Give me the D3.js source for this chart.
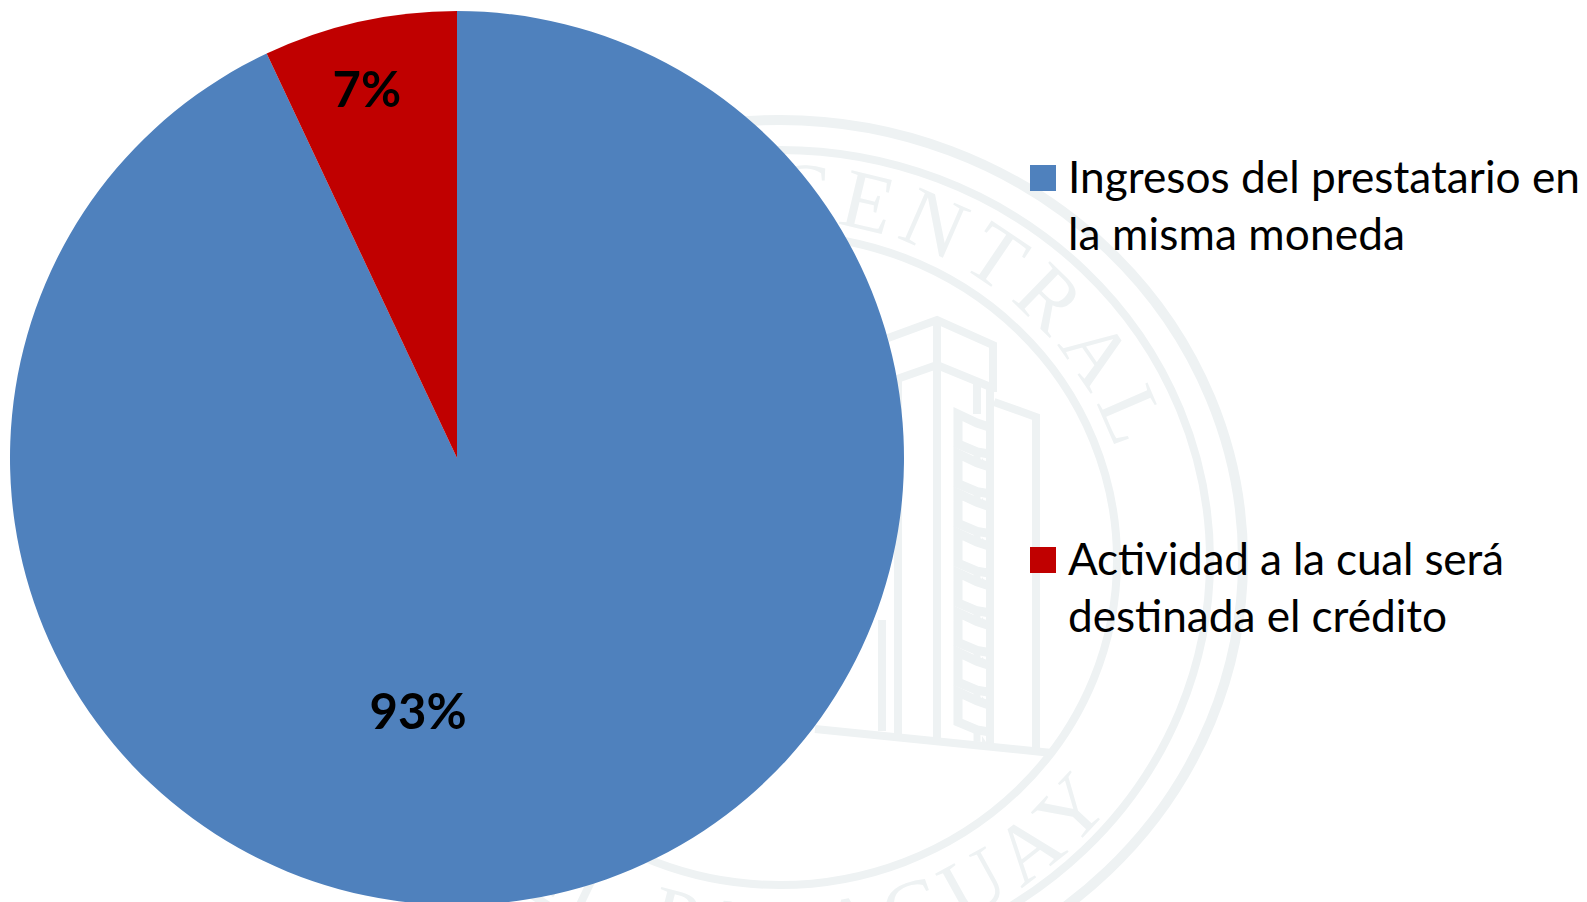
<!DOCTYPE html>
<head>
  <meta charset="utf-8">
  <script src="https://d3js.org/d3.v7.min.js"></script>
  <style>
    html, body { margin: 0; padding: 0; background: #fff; }
    svg { display: block; }
    text { font-family: Lato, "Open Sans", sans-serif; }
  </style>
</head>
<body>
  <div id="chart"></div>
  <script>
    var categories = ["Ingresos del prestatario en la misma moneda", "Actividad a la cual será destinada el crédito"];
    var legendLines = [["Ingresos del prestatario en", "la misma moneda"], ["Actividad a la cual será", "destinada el crédito"]];
    var legendWidths = [[512, 337], [436, 379]];
    var values = [93, 7];
    var valueLabels = ["93%", "7%"];
    var colors = ["#4f81bd", "#c00000"];

    var width = 1587, height = 902;
    var cx = 457, cy = 458, radius = 447;
    var seal = "#eef2f3";

    var svg = d3.select("#chart").append("svg")
      .attr("width", width)
      .attr("height", height);

    // watermark seal behind the chart
    var wm = svg.append("g").attr("class", "watermark");
    var sx = 780, sy = 560;

    [[463, 440, 10], [430, 410, 8], [337, 325, 8]].forEach(function(r) {
      wm.append("ellipse")
        .attr("cx", sx).attr("cy", sy)
        .attr("rx", r[0]).attr("ry", r[1])
        .attr("fill", "none").attr("stroke", seal).attr("stroke-width", r[2]);
    });

    var defs = svg.append("defs");
    defs.append("path").attr("id", "sealTop")
      .attr("d", "M" + (sx - 355) + "," + sy + " A355,340 0 0 1 " + (sx + 355) + "," + sy);
    defs.append("path").attr("id", "sealBottom")
      .attr("d", "M" + (sx - 420) + "," + sy + " A420,400 0 0 0 " + (sx + 420) + "," + sy);

    function sealText(id, str, offset) {
      wm.append("text")
        .attr("fill", seal)
        .style("font-family", "'Liberation Serif', serif")
        .style("font-size", "84px")
        .style("letter-spacing", "9px")
        .attr("text-anchor", "end")
        .append("textPath")
        .attr("href", "#" + id)
        .attr("startOffset", offset)
        .text(str);
    }
    sealText("sealTop", "BANCO CENTRAL", "90.5%");
    sealText("sealBottom", "DEL PARAGUAY", "80%");

    // building outline
    var line = d3.line();
    var tower = [
      [[888, 338], [937, 320], [993, 345], [993, 392]],
      [[897, 379], [937, 365], [993, 388]],
      [[937, 322], [937, 738]],
      [[898, 378], [898, 734]],
      [[882, 620], [882, 731]],
      [[977, 383], [977, 414]],
      [[990, 388], [990, 745]],
      [[994, 402], [1036, 417], [1036, 750]],
      [[815, 729], [1052, 753]]
    ];
    wm.selectAll("path.tower")
      .data(tower)
      .enter().append("path")
      .attr("class", "tower")
      .attr("d", line)
      .attr("fill", "none")
      .attr("stroke", seal)
      .attr("stroke-width", 8);

    // stack of windows between the towers
    d3.range(8).forEach(function(i) {
      var y = 414 + i * 39.7;
      wm.append("path")
        .attr("d", line([[989, y + 13], [977, y + 9], [958, y], [958, y + 30], [977, y + 38], [989, y + 40]]))
        .attr("fill", "none").attr("stroke", seal).attr("stroke-width", 9);
      wm.append("path")
        .attr("d", line([[977, y + 38], [977, y + 50]]))
        .attr("fill", "none").attr("stroke", seal).attr("stroke-width", 7);
      wm.append("path")
        .attr("d", line([[982, y + 44], [988, y + 53], [982, y + 53]]))
        .attr("fill", seal);
    });

    // pie
    var pie = d3.pie().sort(null).value(function(d) { return d; });
    var arc = d3.arc().innerRadius(0).outerRadius(radius);
    var slices = pie(values);

    var g = svg.append("g").attr("transform", "translate(" + cx + "," + cy + ")");

    g.selectAll("path")
      .data(slices)
      .enter().append("path")
      .attr("d", arc)
      .attr("fill", function(d, i) { return colors[i]; });

    var labelArcs = [
      d3.arc().innerRadius(257).outerRadius(257),
      d3.arc().innerRadius(377).outerRadius(377)
    ];
    var labelShift = [[-95, 20], [-8, 17]];

    g.selectAll("text")
      .data(slices)
      .enter().append("text")
      .attr("transform", function(d, i) {
        var c = labelArcs[i].centroid(d);
        return "translate(" + (c[0] + labelShift[i][0]) + "," + (c[1] + labelShift[i][1]) + ")";
      })
      .attr("text-anchor", "middle")
      .attr("font-size", 49)
      .attr("font-weight", 700)
      .attr("fill", "#000")
      .text(function(d, i) { return valueLabels[i]; });

    // legend
    var legendY = d3.scalePoint().domain(categories).range([165, 547]);

    var legend = svg.selectAll("g.legend")
      .data(categories)
      .enter().append("g")
      .attr("class", "legend")
      .attr("transform", function(d) { return "translate(1030," + legendY(d) + ")"; });

    legend.append("rect")
      .attr("width", 26)
      .attr("height", 26)
      .attr("fill", function(d, i) { return colors[i]; });

    legend.each(function(d, i) {
      d3.select(this).selectAll("text")
        .data(legendLines[i])
        .enter().append("text")
        .attr("x", 38)
        .attr("y", function(t, j) { return 28 + j * 57; })
        .attr("font-size", 44.2)
        .attr("textLength", function(t, j) { return legendWidths[i][j]; })
        .attr("lengthAdjust", "spacing")
        .attr("fill", "#000")
        .text(function(t) { return t; });
    });
  </script>
</body>
